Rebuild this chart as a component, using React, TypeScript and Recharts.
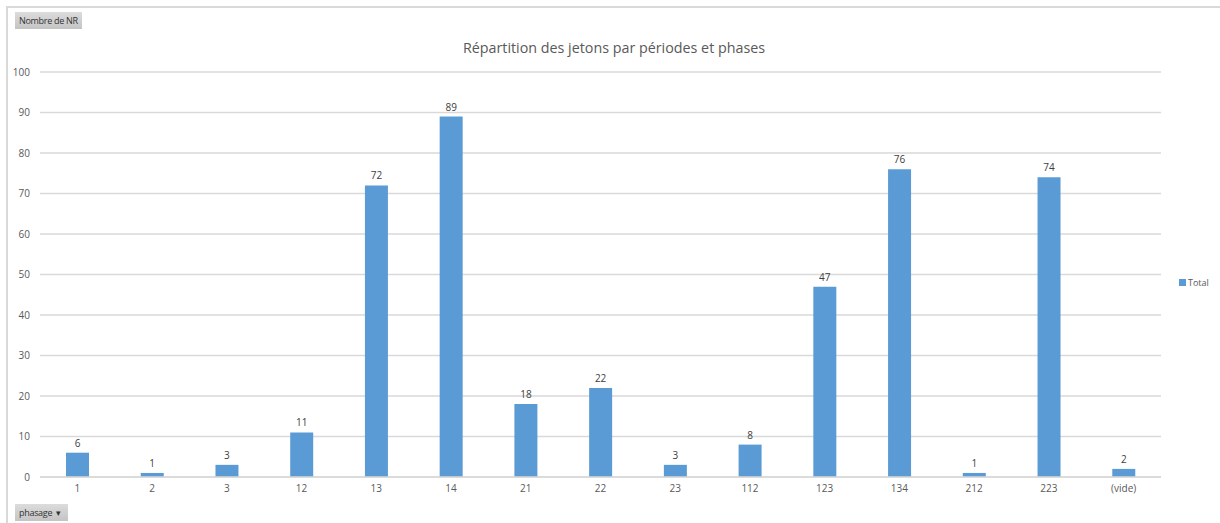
import { BarChart, Bar, XAxis, YAxis, CartesianGrid, LabelList, Legend } from 'recharts';

const categories = ['1', '2', '3', '12', '13', '14', '21', '22', '23', '112', '123', '134', '212', '223', '(vide)'];
const totals = [6, 1, 3, 11, 72, 89, 18, 22, 3, 8, 47, 76, 1, 74, 2];
const yTicks = [0, 10, 20, 30, 40, 50, 60, 70, 80, 90, 100];

const data = categories.map((c, i) => ({ phasage: c, Total: totals[i] }));

const font = '"Open Sans", "Liberation Sans", sans-serif';
const grey = '#595959';

const FieldButton = ({ label, style }) => (
  <div
    style={{
      position: 'absolute',
      background: 'linear-gradient(#dcdcdc, #c4c4c4)',
      color: '#333',
      fontSize: 9,
      fontFamily: font,
      padding: '2px 4px',
      lineHeight: '13px',
      letterSpacing: -0.3,
      ...style,
    }}
  >
    {label}
  </div>
);

const LegendBox = () => (
  <div style={{ display: 'flex', alignItems: 'center', fontSize: 9, color: grey, fontFamily: font, paddingLeft: 18 }}>
    <span style={{ width: 7, height: 7, background: '#5b9bd5', marginRight: 2, display: 'inline-block' }} />
    Total
  </div>
);

export default function App() {
  return (
    <div style={{ position: 'absolute', left: 0, top: 0, width: 1220, height: 523, background: '#fff', overflow: 'hidden' }}>
      <div style={{ position: 'absolute', left: 6, top: 6, width: 1220, height: 523, borderLeft: '2px solid #d9d9d9', borderTop: '2px solid #d9d9d9' }} />
      <FieldButton label="Nombre de NR" style={{ left: 15, top: 12 }} />
      <FieldButton label={<>phasage&nbsp;&nbsp;▾</>} style={{ left: 15, top: 504, width: 45 }} />
      <div
        style={{
          position: 'absolute',
          left: 0,
          width: 1228,
          top: 38,
          textAlign: 'center',
          fontFamily: font,
          fontSize: 14.3,
          color: grey,
        }}
      >
        Répartition des jetons par périodes et phases
      </div>
      <div style={{ position: 'absolute', left: 0, top: 0 }}>
        <BarChart
          width={1220}
          height={523}
          data={data}
          margin={{ top: 72, right: 0, bottom: 0, left: 0 }}
          barCategoryGap={26}
        >
          <CartesianGrid vertical={false} stroke="#d9d9d9" strokeWidth={1.5} />
          <XAxis
            dataKey="phasage"
            axisLine={{ stroke: '#d9d9d9', strokeWidth: 1.5 }}
            tickLine={false}
            tickSize={0}
            tickMargin={8}
            height={46}
            interval={0}
            tick={{ fill: grey, fontSize: 10, fontFamily: font }}
          />
          <YAxis
            domain={[0, 100]}
            ticks={yTicks}
            width={40}
            axisLine={false}
            tickLine={false}
            tickSize={0}
            tickMargin={10}
            tick={{ fill: grey, fontSize: 10, fontFamily: font }}
          />
          <Legend
            layout="vertical"
            align="right"
            verticalAlign="top"
            wrapperStyle={{ width: 59, right: 0, top: 276, left: 'auto' }}
            content={() => <LegendBox />}
          />
          <Bar dataKey="Total" fill="#5b9bd5" barSize={23} isAnimationActive={false}>
            <LabelList dataKey="Total" position="top" offset={6} fill="#404040" fontSize={10} fontFamily={font} />
          </Bar>
        </BarChart>
      </div>
    </div>
  );
}
